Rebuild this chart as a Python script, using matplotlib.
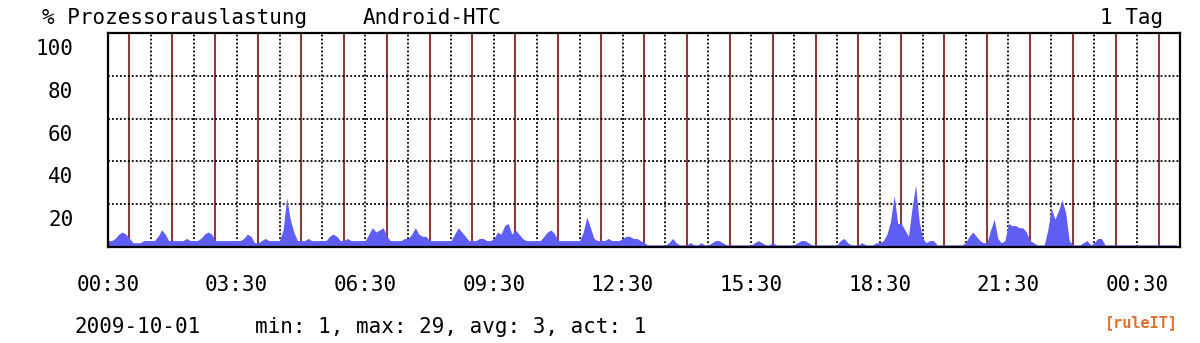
import numpy as np
import matplotlib
matplotlib.use("Agg")
import matplotlib.pyplot as plt
from matplotlib.transforms import ScaledTranslation

# CPU load in %, 5-minute samples starting 00:30 (one row = one hour)
load_rows = [
    [3, 3, 4, 6, 7, 6, 4, 2, 2, 2, 3, 3],
    [3, 3, 5, 8, 6, 3, 3, 3, 3, 3, 4, 3],
    [3, 3, 4, 6, 7, 6, 3, 3, 3, 3, 3, 3],
    [3, 3, 4, 6, 5, 2, 2, 3, 4, 3, 3, 3],
    [3, 8, 23, 13, 7, 3, 3, 3, 4, 3, 3, 3],
    [3, 3, 5, 6, 5, 3, 3, 4, 3, 3, 3, 3],
    [3, 6, 9, 7, 8, 9, 5, 3, 3, 3, 3, 4],
    [4, 6, 9, 6, 5, 5, 3, 3, 3, 3, 3, 3],
    [3, 6, 9, 7, 5, 3, 3, 3, 4, 4, 3, 3],
    [4, 7, 6, 10, 11, 6, 8, 6, 4, 3, 3, 3],
    [3, 3, 5, 7, 8, 6, 3, 3, 3, 3, 3, 3],
    [3, 7, 14, 9, 4, 3, 3, 3, 4, 3, 3, 3],
    [4, 5, 5, 4, 4, 3, 2, 1, 1, 1, 1, 1],
    [1, 2, 4, 2, 1, 1, 1, 2, 1, 1, 2, 1],
    [1, 2, 3, 3, 2, 1, 1, 1, 1, 1, 1, 1],
    [1, 2, 3, 2, 1, 1, 2, 1, 1, 1, 1, 1],
    [1, 2, 3, 3, 2, 1, 1, 1, 1, 1, 1, 1],
    [1, 3, 4, 2, 1, 1, 1, 2, 1, 1, 1, 2],
    [2, 3, 6, 12, 24, 11, 11, 8, 5, 18, 29, 12],
    [4, 2, 3, 3, 1, 1, 1, 1, 1, 1, 1, 1],
    [2, 5, 7, 5, 3, 2, 2, 8, 13, 4, 2, 3],
    [11, 10, 10, 9, 9, 7, 3, 2, 1, 1, 1, 8],
    [18, 13, 17, 22, 16, 3, 1, 1, 1, 2, 3, 1],
    [2, 4, 4, 1, 1, 1, 1, 1, 1, 1, 1, 1],
    [1, 1, 1, 1, 1, 1, 1, 1, 1, 1, 1, 1],
]
load = np.array(load_rows, float).ravel()
hours = np.arange(len(load)) * 5 / 60.0   # hours after 00:30

x_ticks = [0, 3, 6, 9, 12, 15, 18, 21, 24]
x_labels = ["00:30", "03:30", "06:30", "09:30", "12:30", "15:30", "18:30", "21:30", "00:30"]
y_ticks = [20, 40, 60, 80, 100]

W, H = 1200, 343
mono = "DejaVu Sans Mono"
FS = 15


def main():
    fig = plt.figure(figsize=(W / 100, H / 100), dpi=100)
    fig.patch.set_facecolor("white")
    ax = fig.add_axes([108 / W, 1 - 247 / H, (1180 - 108) / W, (247 - 33) / H])

    # grid: red full-hour lines, dotted half-hour lines
    for h in range(25):
        ax.axvline(h + 0.5, color="#8c3a3a", lw=1.5, zorder=1)
    for h in range(1, 25):
        ax.axvline(h, color="black", lw=1.3, ls=(0, (1, 1.2)), zorder=1)
    for v in [20, 40, 60, 80]:
        ax.axhline(v, color="black", lw=1.3, ls=(0, (1, 1.2)), zorder=1)

    ax.fill_between(hours, 0, load, color="#5e5ef4", lw=0, zorder=2)

    ax.set_xlim(0, 25)
    ax.set_ylim(0, 100)
    for s in ax.spines.values():
        s.set_linewidth(1.6)
        s.set_color("black")
        s.set_zorder(3)

    ax.set_xticks(x_ticks)
    ax.set_xticklabels(x_labels, fontfamily=mono, fontsize=FS)
    ax.set_yticks(y_ticks)
    ax.set_yticklabels([str(v) for v in y_ticks], fontfamily=mono, fontsize=FS)
    ax.tick_params(axis="x", length=0, pad=20)
    ax.tick_params(axis="y", length=0, pad=25)
    off = ScaledTranslation(0, -0.14, fig.dpi_scale_trans)
    for lab in ax.get_yticklabels():
        lab.set_transform(lab.get_transform() + off)

    def txt(x, y, s, **kw):
        fig.text(x / W, 1 - y / H, s, fontfamily=mono, fontsize=FS, va="center", **kw)

    txt(42, 18, "% Prozessorauslastung")
    txt(363, 18, "Android-HTC")
    txt(1163, 18, "1 Tag", ha="right")
    txt(75, 327, "2009-10-01")
    txt(255, 327, "min: 1, max: 29, avg: 3, act: 1")
    fig.text(1178 / W, 1 - 323 / H, "[ruleIT]", fontfamily=mono, fontsize=11,
             fontweight="bold", color="#e0702c", ha="right", va="center")

    fig.savefig("out.png", dpi=100, facecolor="white")


if __name__ == "__main__":
    main()
